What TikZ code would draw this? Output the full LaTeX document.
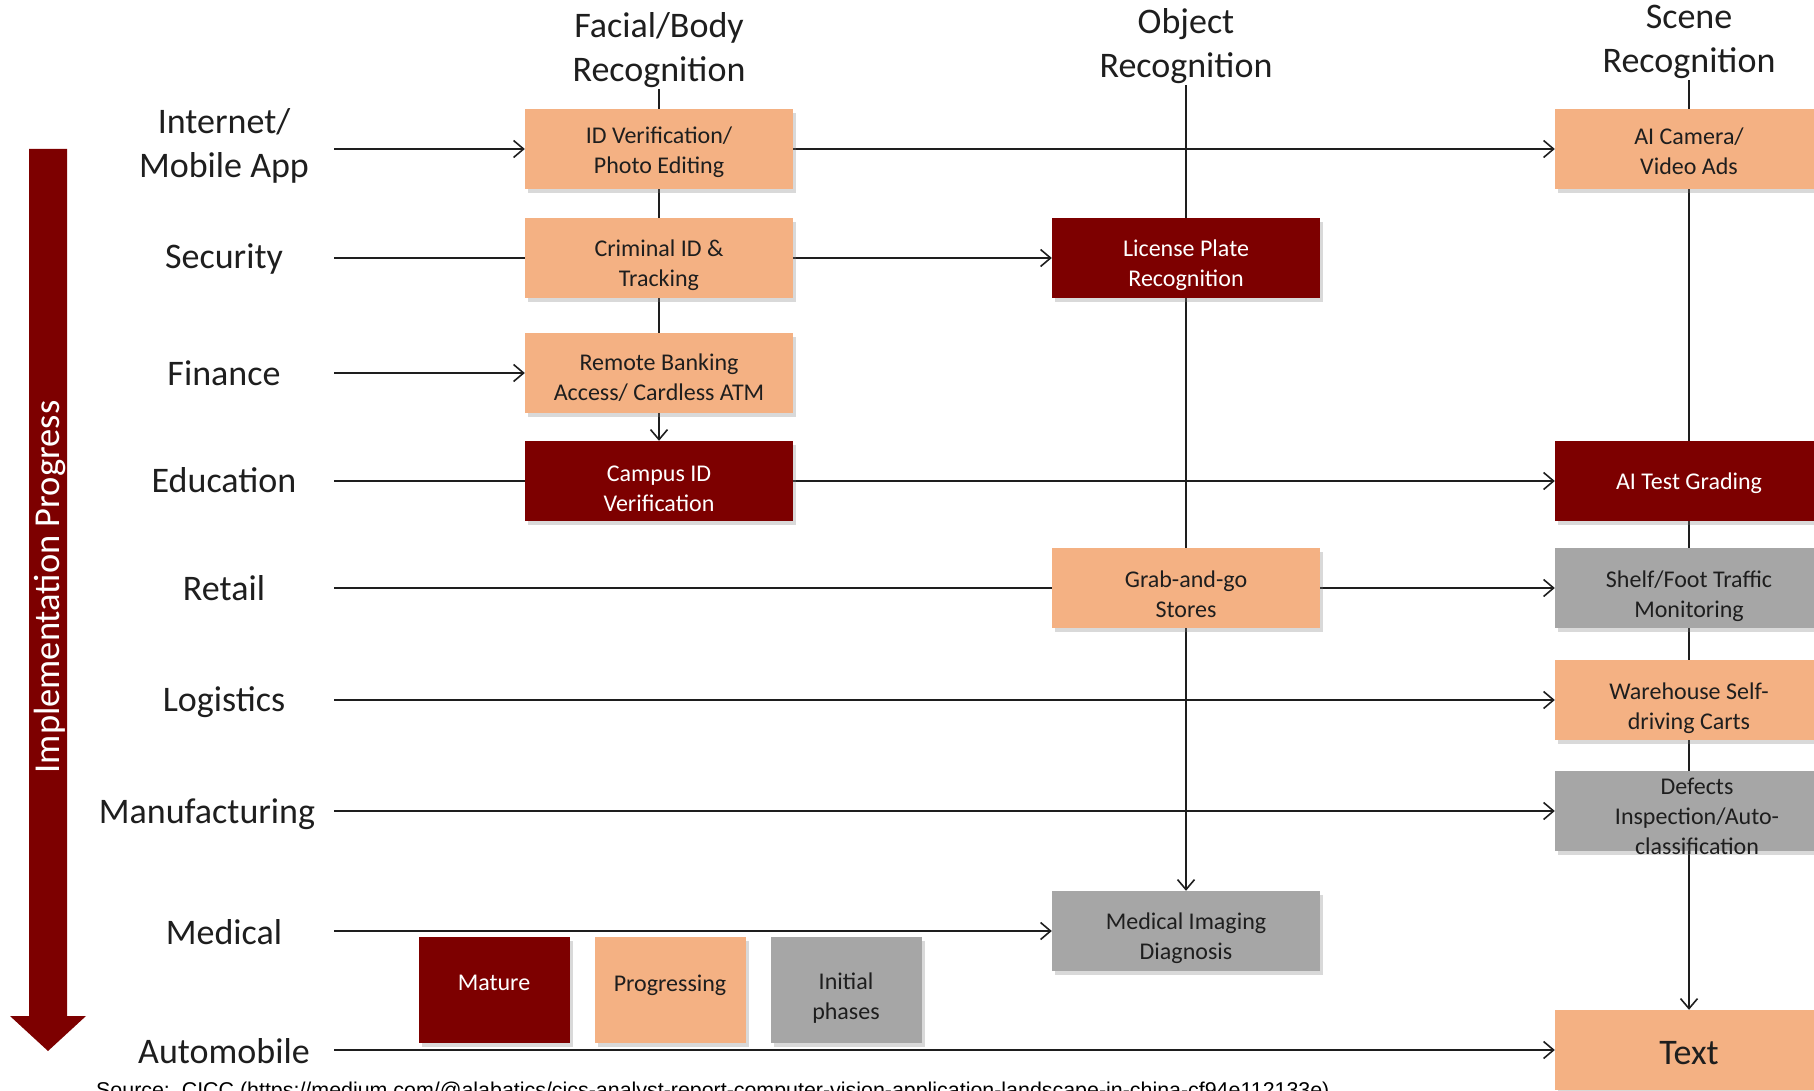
\documentclass[tikz,border=0pt]{standalone}
\usepackage{fontspec}
\setmainfont{Carlito}
\newfontfamily\srcfont{Liberation Sans}
\usetikzlibrary{arrows.meta,shadows}
\definecolor{dred}{RGB}{125,0,0}
\definecolor{lorange}{RGB}{244,177,131}
\definecolor{mgray}{RGB}{166,166,166}
\definecolor{ink}{RGB}{30,30,30}
\newcommand\lowr[1]{\rule{0pt}{#1pt}}
\pgfdeclarelayer{bg}
\pgfsetlayers{bg,main}
\begin{document}
\begin{tikzpicture}[x=1pt,y=-1pt,
 box/.style={minimum width=268pt, minimum height=80pt, align=center, inner sep=2pt,
   font=\fontsize{24}{30}\selectfont,
   drop shadow={shadow xshift=3pt,shadow yshift=-4pt,opacity=0.3}},
 mature/.style={box, fill=dred, text=white},
 prog/.style={box, fill=lorange, text=ink},
 init/.style={box, fill=mgray, text=ink},
 raise/.style={execute at end node={\rule[-#1pt]{0pt}{0pt}}},
 legbox/.style={minimum width=151pt, minimum height=106pt},
 rowlab/.style={font=\fontsize{36}{44}\selectfont, align=center, text=ink},
 head/.style={font=\fontsize{36}{44}\selectfont, align=center, inner sep=1pt, text=ink},
 conn/.style={line width=1.6pt, draw=ink},
 arr/.style={conn, -{Straight Barb[length=10pt,width=17pt,line width=1.6pt]}},
]
\useasboundingbox (0,0) rectangle (1814,1091);
\clip (0,0) rectangle (1814,1091);

% column headers
\node[head] (fh) at (659,50) {Facial/Body\\Recognition};
\node[head] (oh) at (1186,46) {Object\\Recognition};
\node[head] (sh) at (1689,42) {Scene\\Recognition};

% row labels
\node[rowlab] (l1) at (224,146) {Internet/\\Mobile App};
\node[rowlab] (l2) at (224,259) {Security};
\node[rowlab] (l3) at (224,373) {Finance};
\node[rowlab] (l4) at (224,480) {Education};
\node[rowlab] (l5) at (224,588) {Retail};
\node[rowlab] (l6) at (224,702) {Logistics};
\node[rowlab] (l7) at (207,814) {Manufacturing};
\node[rowlab] (l8) at (224,932) {Medical};
\node[rowlab] (l9) at (224,1051) {Automobile};

% connector start points
\coordinate (s1) at (334,149);
\coordinate (s2) at (334,258);
\coordinate (s3) at (334,373);
\coordinate (s4) at (334,481);
\coordinate (s5) at (334,588);
\coordinate (s6) at (334,700);
\coordinate (s7) at (334,811);
\coordinate (s8) at (334,931);
\coordinate (s9) at (334,1050);

% facial column
\node[prog] (idv) at (659,149) {\lowr{24}ID Verification/\\Photo Editing};
\node[prog] (crim) at (659,258) {\lowr{31}Criminal ID \&\\Tracking};
\node[prog] (bank) at (659,373) {\lowr{26}Remote Banking\\Access/ Cardless ATM};
\node[mature] (camp) at (659,481) {\lowr{31}Campus ID\\Verification};

% object column
\node[mature] (lic) at (1186,258) {\lowr{31}License Plate\\Recognition};
\node[prog] (grab) at (1186,588) {\lowr{29}Grab-and-go\\Stores};
\node[init] (medi) at (1186,931) {\lowr{32}Medical Imaging\\Diagnosis};

% scene column
\node[prog] (cam) at (1689,149) {\lowr{22}AI Camera/\\Video Ads};
\node[mature] (grade) at (1689,481) {\lowr{22}AI Test Grading};
\node[init] (shelf) at (1689,588) {\lowr{34}Shelf/Foot Traffic\\Monitoring};
\node[prog] (ware) at (1689,700) {\lowr{33}Warehouse Self-\\driving Carts};
\node[init] (defb) at (1689,811) {};
\node[font=\fontsize{24}{30}\selectfont, align=center, text=ink] (deft) at (1697,816) {Defects\\Inspection/Auto-\\classification};
\node[prog, font=\fontsize{36}{44}\selectfont] (txt) at (1689,1050) {\lowr{29}Text};

% legend
\node[mature, legbox, raise=14] (lg1) at (494,990) {Mature};
\node[prog, legbox, raise=14] (lg2) at (670,990) {Progressing};
\node[init, legbox] (lg3) at (846,990) {\lowr{32}Initial\\phases};

% implementation progress arrow
\fill[dred] (29,149) -- (67,149) -- (67,1016) -- (86,1016) -- (48,1051) -- (10,1016) -- (29,1016) -- cycle;
\node[rotate=90, text=white, font=\fontsize{36.5}{42}\selectfont] (imp) at (50,587) {Implementation Progress};

% source
\node[anchor=base west, inner sep=0pt, font=\srcfont\fontsize{21.4}{24}\selectfont, text=black] (src) at (96,1097)
 {Source:\ \ CICC (https://medium.com/@alabatics/cics-analyst-report-computer-vision-application-landscape-in-china-cf94e112133e)};

\begin{pgfonlayer}{bg}
% verticals
\draw[arr] (fh.south) -- (camp.north);
\draw[arr] (oh.south) -- (medi.north);
\draw[arr] (sh.south) -- (txt.north);
% rows
\draw[arr] (s1) -- (idv.west);
\draw[arr] (idv.east) -- (cam.west);
\draw[conn] (s2) -- (crim.west);
\draw[arr] (crim.east) -- (lic.west);
\draw[arr] (s3) -- (bank.west);
\draw[conn] (s4) -- (camp.west);
\draw[arr] (camp.east) -- (grade.west);
\draw[conn] (s5) -- (grab.west);
\draw[arr] (grab.east) -- (shelf.west);
\draw[arr] (s6) -- (ware.west);
\draw[arr] (s7) -- (defb.west);
\draw[arr] (s8) -- (medi.west);
\draw[arr] (s9) -- (txt.west);
\end{pgfonlayer}
\end{tikzpicture}
\end{document}
